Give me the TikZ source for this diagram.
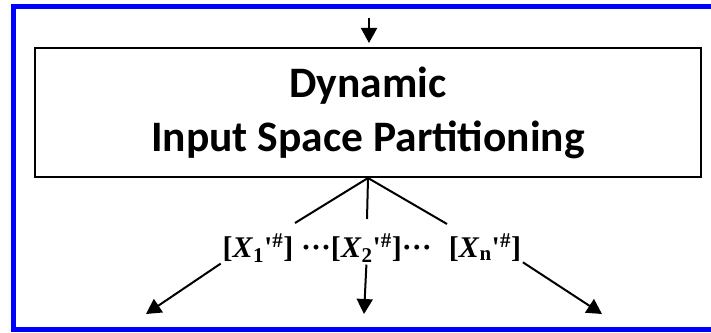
\documentclass[tikz,border=0pt]{standalone}
\usepackage{fontspec}
\usetikzlibrary{arrows.meta}
\newfontfamily\calibri{Carlito}
\newfontfamily\tnr{Liberation Serif}[Ligatures=TeXOff]
\definecolor{framblue}{RGB}{0,0,255}
\begin{document}
\begin{tikzpicture}[x=1pt,y=1pt,
  frame/.style={draw=framblue, line width=5pt},
  mainbox/.style={draw, line width=2pt, minimum width=666pt, minimum height=129pt, inner sep=0pt, align=center,
    font=\calibri\bfseries\fontsize{43.5}{54}\selectfont},
  conn/.style={line width=2pt},
  arr/.style={line width=2pt, -{Triangle[length=15pt,width=16pt]}},
  lab/.style={font=\tnr\bfseries\fontsize{30}{32}\selectfont, inner sep=0pt, anchor=base}
]
\useasboundingbox (0,0) rectangle (711,332);
\draw[frame] (720,325.5) -- (13.5,325.5) -- (13.5,2.5) -- (720,2.5);

\node[mainbox] (box) at (368,219.5) {Dynamic\\Input Space Partitioning};

\coordinate (in) at (369,314);
\draw[arr, shorten >=4pt] (in) -- (in |- box.north);

\node[lab] (l1) at (258,75) {[\textit{X}\textsubscript{1}'\textsuperscript{\#}]};
\node[lab] (l2) at (366.5,75) {···[\textit{X}\textsubscript{2}'\textsuperscript{\#}]···};
\node[lab] (l3) at (485,75) {[\textit{X}\textsubscript{n}'\textsuperscript{\#}]};

\coordinate (e1) at (295,109);
\coordinate (e2) at (367,113);
\coordinate (e3) at (447,108);
\draw[conn] (box.south) -- (e1);
\draw[conn] (box.south) -- (e2);
\draw[conn] (box.south) -- (e3);

\coordinate (t1) at (146,18);
\coordinate (t2) at (364,18);
\coordinate (t3) at (602,18);
\draw[arr, shorten <=2pt] (l1.south west) -- (t1);
\draw[arr, shorten <=2pt] (l2.south) -- (t2);
\draw[arr, shorten <=2pt] (l3.south east) -- (t3);
\end{tikzpicture}
\end{document}
